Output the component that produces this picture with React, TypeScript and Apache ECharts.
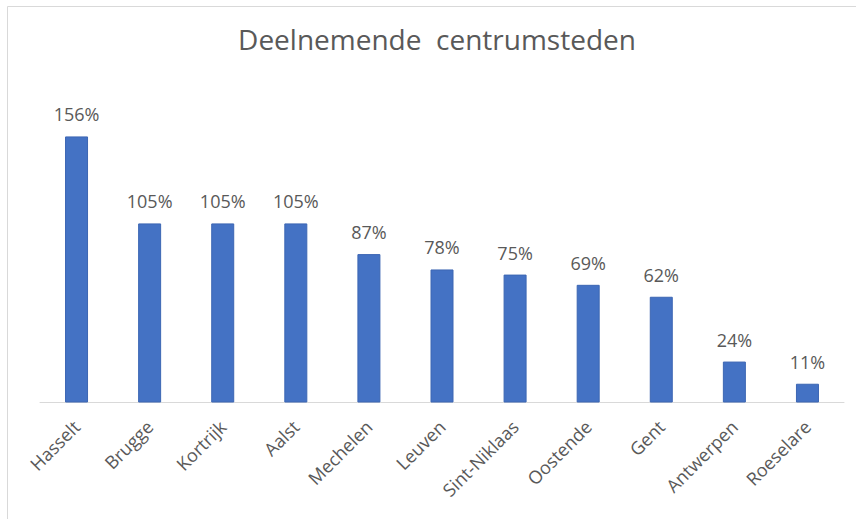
import React, { useEffect, useRef } from "react";
import * as echarts from "echarts";

const categories = [
  "Hasselt",
  "Brugge",
  "Kortrijk",
  "Aalst",
  "Mechelen",
  "Leuven",
  "Sint-Niklaas",
  "Oostende",
  "Gent",
  "Antwerpen",
  "Roeselare",
];
const values = [156, 105, 105, 105, 87, 78, 75, 69, 62, 24, 11];
const titleText = "Deelnemende  centrumsteden";

const FONT = "'Open Sans', 'Noto Sans', sans-serif";
const GRAY = "#595959";

export default function App() {
  const ref = useRef<HTMLDivElement>(null);
  useEffect(() => {
    if (!ref.current) return;
    const chart = echarts.init(ref.current, null, { renderer: "svg" });
    chart.setOption({
      animation: false,
      backgroundColor: "#ffffff",
      title: {
        text: titleText,
        left: 437,
        textAlign: "center",
        top: 25,
        padding: 0,
        textStyle: {
          fontFamily: FONT,
          fontSize: 28,
          fontWeight: "normal",
          color: GRAY,
        },
      },
      graphic: [
        {
          type: "rect",
          shape: { x: 7.5, y: 6.5, width: 900, height: 600 },
          style: { fill: "none", stroke: "#d9d9d9", lineWidth: 1 },
          silent: true,
        },
      ],
      grid: { left: 40, right: 12, top: 95.5, bottom: 116.5, containLabel: false },
      xAxis: {
        type: "category",
        data: categories,
        axisLine: { lineStyle: { color: "#d9d9d9", width: 1 } },
        axisTick: { show: false },
        axisLabel: {
          rotate: 45,
          interval: 0,
          margin: 21,
          fontFamily: FONT,
          fontSize: 18,
          color: GRAY,
        },
      },
      yAxis: {
        type: "value",
        min: 0,
        max: 180,
        show: false,
        splitLine: { show: false },
      },
      series: [
        {
          type: "bar",
          data: values,
          barWidth: 23,
          itemStyle: { color: "#4472C4", borderColor: "#3c66b3", borderWidth: 1 },
          label: {
            show: true,
            position: "top",
            distance: 13,
            formatter: "{c}%",
            fontFamily: FONT,
            fontSize: 18,
            color: GRAY,
          },
        },
      ],
    });
    return () => chart.dispose();
  }, []);
  return (
    <div
      ref={ref}
      style={{ position: "fixed", left: 0, top: 0, width: 856, height: 519, background: "#fff" }}
    />
  );
}
